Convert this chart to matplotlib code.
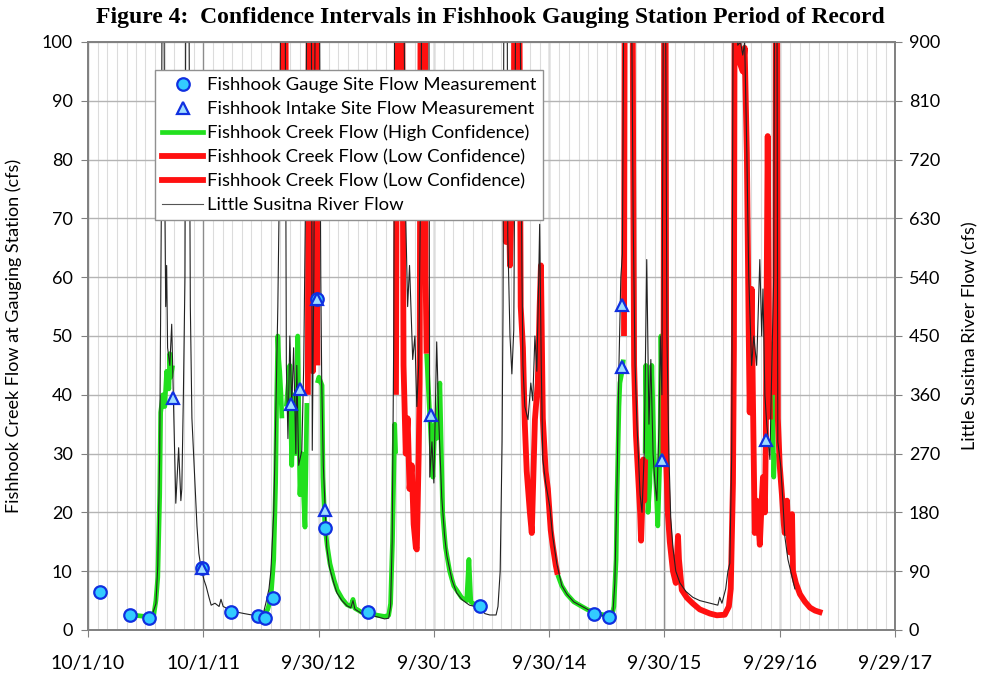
import numpy as np
import pandas as pd
import matplotlib
matplotlib.use('Agg')
import matplotlib.pyplot as plt
import matplotlib.dates as mdates
from matplotlib.lines import Line2D

plt.rcParams['font.family'] = ['Lato', 'DejaVu Sans']

nan = np.nan

# ---- spot measurements (cfs, Fishhook Creek) ----
gauge_dates = ['2010-11-08', '2011-02-11', '2011-04-12', '2011-09-27', '2011-12-28',
               '2012-03-22', '2012-04-13', '2012-05-09', '2012-09-25', '2012-10-20',
               '2013-03-05', '2014-02-23', '2015-02-19', '2015-04-08']
gauge_cfs = [6.5, 2.5, 2.0, 10.6, 3.1, 2.4, 2.0, 5.4, 56.3, 17.4, 3.1, 4.1, 2.7, 2.2]

intake_dates = ['2011-06-26', '2011-09-27', '2012-07-05', '2012-08-02', '2012-09-25',
                '2012-10-20', '2013-09-21', '2015-05-19', '2015-05-19', '2015-09-22',
                '2016-08-17']
intake_cfs = [39.5, 10.6, 38.4, 41.0, 56.3, 20.4, 36.6, 55.3, 44.7, 28.9, 32.3]

# ---- Fishhook Creek flow, high confidence (cfs) ----
green = [
    ('2011-02-11', 2.6), ('2011-03-15', 2.4), ('2011-04-15', 2.2), ('2011-04-27', 2.5),
    ('2011-05-04', 5), ('2011-05-10', 9), ('2011-05-16', 23), ('2011-05-19', 37),
    ('2011-05-26', 40), ('2011-06-01', 38), ('2011-06-07', 44), ('2011-06-14', 41),
    ('2011-06-17', 47), ('2011-06-20', 43), ('2011-06-26', 45), ('2011-06-27', nan),
    ('2012-03-22', 2.3), ('2012-04-07', 2.4), ('2012-04-22', 3.5), ('2012-05-02', 5.5),
    ('2012-05-11', 12), ('2012-05-17', 25), ('2012-05-20', 38), ('2012-05-24', 50),
    ('2012-05-27', 46), ('2012-05-30', 44), ('2012-06-03', 40), ('2012-06-06', 36),
    ('2012-06-07', nan),
    ('2012-06-20', 38), ('2012-07-01', 45), ('2012-07-07', 28), ('2012-07-13', 40),
    ('2012-07-20', 30), ('2012-07-26', 50), ('2012-08-02', 23), ('2012-08-08', 30),
    ('2012-08-18', 17.5), ('2012-08-24', 38.6), ('2012-08-25', nan),
    ('2012-09-26', 42), ('2012-10-01', 43), ('2012-10-11', 41.6), ('2012-10-14', 26),
    ('2012-10-20', 17.7), ('2012-10-27', 14.5), ('2012-11-05', 11.3), ('2012-11-18', 8.5),
    ('2012-11-28', 6.8), ('2012-12-14', 5.3), ('2012-12-29', 4.3), ('2013-01-10', 4.0),
    ('2013-01-17', 5.2), ('2013-01-23', 3.7), ('2013-02-14', 3.0), ('2013-03-11', 2.8),
    ('2013-04-05', 2.5), ('2013-04-27', 2.3), ('2013-05-10', 2.5), ('2013-05-16', 4.5),
    ('2013-05-22', 15), ('2013-05-29', 35), ('2013-06-01', 30), ('2013-06-02', nan),
    ('2013-09-07', 47), ('2013-09-17', 36.5), ('2013-09-27', 26), ('2013-10-03', 35),
    ('2013-10-09', 32.6), ('2013-10-19', 42), ('2013-10-28', 19.7), ('2013-11-06', 14),
    ('2013-11-19', 10), ('2013-12-02', 7.5), ('2013-12-11', 6.8), ('2013-12-27', 5.5),
    ('2014-01-12', 5.0), ('2014-01-19', 12), ('2014-01-25', 4.8), ('2014-02-07', 4.3),
    ('2014-02-23', 3.6), ('2014-02-24', nan),
    ('2014-10-27', 9.4), ('2014-11-09', 7.5), ('2014-11-25', 6.1), ('2014-12-17', 4.8),
    ('2015-01-05', 4.2), ('2015-01-28', 3.5), ('2015-02-17', 3.0), ('2015-03-10', 2.7),
    ('2015-03-29', 2.5), ('2015-04-10', 2.3), ('2015-04-17', 2.5), ('2015-04-23', 4),
    ('2015-04-30', 12), ('2015-05-03', 23), ('2015-05-09', 38), ('2015-05-12', 42),
    ('2015-05-19', 44), ('2015-05-23', 46), ('2015-05-24', nan),
    ('2015-07-31', 30), ('2015-08-02', 45), ('2015-08-09', 20), ('2015-08-15', 25),
    ('2015-08-21', 45), ('2015-08-28', 30), ('2015-09-03', 25), ('2015-09-09', 17.7),
    ('2015-09-16', 30), ('2015-09-19', 50), ('2015-09-22', 40), ('2015-09-25', 28),
    ('2015-09-26', nan),
    ('2016-08-29', 36), ('2016-09-04', 48.7), ('2016-09-10', 26), ('2016-09-13', 30),
]

# ---- Fishhook Creek flow, low confidence (cfs), two records ----
red_a = [
    ('2012-06-08', 75), ('2012-06-10', 130), ('2012-06-16', 130), ('2012-06-19', 75),
    ('2012-06-20', nan),
    ('2012-08-27', 40), ('2012-08-31', 130), ('2012-09-09', 130), ('2012-09-12', 44),
    ('2012-09-18', 130), ('2012-09-23', 130), ('2012-09-26', 45), ('2012-09-27', nan),
    ('2013-06-02', 40), ('2013-06-07', 130), ('2013-06-20', 130), ('2013-06-26', 45),
    ('2013-07-03', 30), ('2013-07-09', 36), ('2013-07-15', 24), ('2013-07-22', 28),
    ('2013-07-28', 18), ('2013-08-04', 14), ('2013-08-07', 13.7), ('2013-08-13', 30),
    ('2013-08-16', 42), ('2013-08-20', 130), ('2013-09-01', 130), ('2013-09-04', 60),
    ('2013-09-07', 47), ('2013-09-08', nan),
    ('2014-05-10', 88), ('2014-05-16', 66), ('2014-05-22', 85), ('2014-05-29', 62),
    ('2014-06-04', 75), ('2014-06-10', 80), ('2014-06-13', 130), ('2014-06-26', 130),
    ('2014-07-02', 55), ('2014-07-09', 48), ('2014-07-15', 35), ('2014-07-21', 27),
    ('2014-07-31', 20), ('2014-08-06', 16.5), ('2014-08-16', 35.8), ('2014-08-25', 42),
    ('2014-08-31', 55), ('2014-09-04', 62), ('2014-09-10', 36), ('2014-09-19', 27),
    ('2014-09-26', 24), ('2014-10-05', 17), ('2014-10-11', 14.5), ('2014-10-21', 11),
    ('2014-10-27', 9.4),
]
red_b = [
    ('2015-05-25', 50), ('2015-05-28', 130), ('2015-06-20', 130), ('2015-06-23', 80),
    ('2015-06-26', 45), ('2015-07-02', 33), ('2015-07-09', 26), ('2015-07-15', 20),
    ('2015-07-18', 15.2), ('2015-07-21', 20), ('2015-07-25', 29), ('2015-07-28', 22),
    ('2015-07-31', 29), ('2015-08-01', nan),
    ('2015-09-27', 30), ('2015-09-30', 130), ('2015-10-03', 130), ('2015-10-06', 28),
    ('2015-10-11', 19.7), ('2015-10-17', 15), ('2015-10-27', 10), ('2015-11-05', 8),
    ('2015-11-12', 16), ('2015-11-15', 12), ('2015-11-24', 6.8), ('2015-12-10', 5.5),
    ('2015-12-29', 4.5), ('2016-01-20', 3.5), ('2016-02-21', 2.8), ('2016-03-14', 2.5),
    ('2016-04-08', 2.6), ('2016-04-21', 4), ('2016-04-27', 7), ('2016-05-04', 25),
    ('2016-05-07', 48), ('2016-05-10', 130), ('2016-05-18', 130), ('2016-05-22', 97),
    ('2016-06-04', 95), ('2016-06-10', 99), ('2016-06-17', 81), ('2016-06-23', 50),
    ('2016-06-26', 37), ('2016-07-02', 58), ('2016-07-06', 40), ('2016-07-12', 16.5),
    ('2016-07-18', 22), ('2016-07-22', 19.7), ('2016-07-28', 14.5), ('2016-08-03', 22),
    ('2016-08-07', 26), ('2016-08-13', 20), ('2016-08-16', 32), ('2016-08-19', 60),
    ('2016-08-22', 84), ('2016-08-26', 50), ('2016-08-29', 35.8), ('2016-08-30', nan),
    ('2016-09-15', 40), ('2016-09-17', 130), ('2016-09-20', 130), ('2016-09-23', 36),
    ('2016-09-29', 28), ('2016-10-06', 23), ('2016-10-12', 18), ('2016-10-15', 16.5),
    ('2016-10-22', 22), ('2016-10-25', 18), ('2016-10-31', 13.2), ('2016-11-07', 19.7),
    ('2016-11-10', 10), ('2016-11-19', 8), ('2016-12-02', 6.1), ('2016-12-18', 4.8),
    ('2017-01-03', 3.8), ('2017-01-19', 3.3), ('2017-02-11', 2.9),
]

# ---- Little Susitna River flow (cfs, right axis) ----
susitna = [
    ('2011-04-15', 26), ('2011-04-24', 26), ('2011-05-04', 40), ('2011-05-10', 99),
    ('2011-05-16', 270), ('2011-05-21', 630), ('2011-05-24', 1035), ('2011-05-29', 1035),
    ('2011-06-01', 675), ('2011-06-04', 495), ('2011-06-07', 558), ('2011-06-10', 432),
    ('2011-06-17', 405), ('2011-06-23', 468), ('2011-06-30', 324), ('2011-07-06', 194),
    ('2011-07-12', 252), ('2011-07-15', 279), ('2011-07-22', 198), ('2011-07-25', 216),
    ('2011-07-30', 360), ('2011-08-04', 540), ('2011-08-07', 1035), ('2011-08-16', 1035),
    ('2011-08-21', 495), ('2011-08-26', 324), ('2011-09-01', 261), ('2011-09-11', 159),
    ('2011-09-17', 117), ('2011-09-24', 95), ('2011-10-03', 77), ('2011-10-10', 67),
    ('2011-10-19', 50), ('2011-10-26', 38), ('2011-11-07', 41), ('2011-11-20', 36),
    ('2011-11-26', 47), ('2011-12-03', 36), ('2011-12-19', 32), ('2012-01-09', 28),
    ('2012-02-09', 25), ('2012-03-03', 23), ('2012-03-22', 21), ('2012-04-07', 23),
    ('2012-04-17', 43), ('2012-04-26', 63), ('2012-05-02', 90), ('2012-05-11', 180),
    ('2012-05-17', 315), ('2012-05-24', 495), ('2012-05-30', 720), ('2012-06-03', 1035),
    ('2012-06-16', 1035), ('2012-06-20', 405), ('2012-06-25', 293), ('2012-07-01', 450),
    ('2012-07-07', 342), ('2012-07-13', 432), ('2012-07-20', 270), ('2012-07-23', 405),
    ('2012-07-29', 252), ('2012-08-08', 275), ('2012-08-14', 405), ('2012-08-21', 720),
    ('2012-08-24', 1035), ('2012-09-07', 1035), ('2012-09-10', 275), ('2012-09-15', 540),
    ('2012-09-20', 1035), ('2012-10-02', 1035), ('2012-10-07', 540), ('2012-10-10', 378),
    ('2012-10-15', 252), ('2012-10-19', 207), ('2012-10-26', 126), ('2012-11-04', 95),
    ('2012-11-17', 72), ('2012-11-27', 57), ('2012-12-13', 45), ('2012-12-29', 37),
    ('2013-01-10', 34), ('2013-01-17', 45), ('2013-01-23', 32), ('2013-02-14', 25),
    ('2013-03-11', 23), ('2013-04-05', 20), ('2013-04-27', 17), ('2013-05-10', 18),
    ('2013-05-16', 36), ('2013-05-21', 135), ('2013-05-26', 450), ('2013-05-29', 1035),
    ('2013-06-26', 1035), ('2013-07-03', 630), ('2013-07-09', 495), ('2013-07-15', 558),
    ('2013-07-25', 414), ('2013-08-01', 450), ('2013-08-07', 342), ('2013-08-13', 405),
    ('2013-08-20', 720), ('2013-08-23', 1035), ('2013-09-14', 1035), ('2013-09-17', 234),
    ('2013-09-24', 288), ('2013-09-30', 225), ('2013-10-09', 441), ('2013-10-16', 315),
    ('2013-10-25', 203), ('2013-11-03', 144), ('2013-11-10', 114), ('2013-11-26', 77),
    ('2013-12-11', 57), ('2013-12-27', 47), ('2014-01-12', 41), ('2014-01-21', 38),
    ('2014-02-07', 36), ('2014-02-23', 32), ('2014-03-11', 25), ('2014-03-26', 23),
    ('2014-04-15', 23), ('2014-04-21', 36), ('2014-04-28', 90), ('2014-05-04', 288),
    ('2014-05-07', 495), ('2014-05-10', 1035), ('2014-05-20', 1035), ('2014-05-22', 603),
    ('2014-05-29', 450), ('2014-06-04', 392), ('2014-06-10', 459), ('2014-06-17', 1035),
    ('2014-06-29', 1035), ('2014-07-06', 540), ('2014-07-09', 405), ('2014-07-15', 342),
    ('2014-07-25', 322), ('2014-08-03', 378), ('2014-08-09', 351), ('2014-08-16', 450),
    ('2014-08-22', 396), ('2014-08-28', 540), ('2014-08-31', 621), ('2014-09-05', 405),
    ('2014-09-10', 261), ('2014-09-19', 225), ('2014-10-02', 189), ('2014-10-11', 144),
    ('2014-10-24', 102), ('2014-11-09', 68), ('2014-11-25', 55), ('2014-12-17', 43),
    ('2015-01-05', 38), ('2015-01-28', 32), ('2015-02-17', 26), ('2015-03-10', 23),
    ('2015-04-10', 21), ('2015-04-20', 27), ('2015-04-26', 72), ('2015-05-03', 225),
    ('2015-05-09', 405), ('2015-05-15', 540), ('2015-05-20', 576), ('2015-05-25', 1035),
    ('2015-06-17', 1035), ('2015-06-23', 630), ('2015-06-29', 405), ('2015-07-05', 315),
    ('2015-07-15', 207), ('2015-07-21', 180), ('2015-07-28', 270), ('2015-08-02', 450),
    ('2015-08-05', 567), ('2015-08-12', 315), ('2015-08-18', 414), ('2015-08-25', 270),
    ('2015-08-31', 225), ('2015-09-06', 198), ('2015-09-13', 315), ('2015-09-17', 450),
    ('2015-09-22', 360), ('2015-09-27', 1035), ('2015-10-03', 1035), ('2015-10-08', 450),
    ('2015-10-14', 270), ('2015-10-20', 171), ('2015-10-27', 126), ('2015-11-05', 90),
    ('2015-11-18', 72), ('2015-12-07', 59), ('2015-12-29', 50), ('2016-01-20', 45),
    ('2016-02-21', 41), ('2016-03-17', 38), ('2016-03-23', 50), ('2016-03-30', 41),
    ('2016-04-11', 63), ('2016-04-18', 90), ('2016-04-24', 102), ('2016-04-30', 270),
    ('2016-05-05', 1035), ('2016-05-16', 1035), ('2016-05-19', 895), ('2016-05-28', 900),
    ('2016-06-04', 880), ('2016-06-10', 900), ('2016-06-17', 729), ('2016-06-23', 540),
    ('2016-07-02', 405), ('2016-07-09', 450), ('2016-07-18', 405), ('2016-07-28', 567),
    ('2016-08-03', 450), ('2016-08-07', 522), ('2016-08-13', 360), ('2016-08-19', 315),
    ('2016-08-29', 261), ('2016-09-04', 405), ('2016-09-10', 540), ('2016-09-13', 1035),
    ('2016-09-20', 1035), ('2016-09-23', 288), ('2016-10-02', 252), ('2016-10-09', 198),
    ('2016-10-15', 144), ('2016-10-25', 108), ('2016-11-07', 81), ('2016-11-16', 63),
]

tick_dates = ['2010-10-01', '2011-10-01', '2012-09-30', '2013-09-30',
              '2014-09-30', '2015-09-30', '2016-09-29', '2017-09-29']
tick_labels = ['10/1/10', '10/1/11', '9/30/12', '9/30/13',
               '9/30/14', '9/30/15', '9/29/16', '9/29/17']


def unpack(rows):
    d = pd.to_datetime([r[0] for r in rows])
    v = np.array([r[1] for r in rows], dtype=float)
    return d, v


fig = plt.figure(figsize=(9.81, 6.75), dpi=100)
ax = fig.add_axes([88/981, 45/675, 807/981, 588/675])
ax2 = ax.twinx()   # Little Susitna (right scale)
ax3 = ax.twinx()   # measurements on top, left scale
ax3.set_ylim(0, 100)
ax3.axis('off')

# grid
xt = pd.to_datetime(tick_dates)
ax.set_xlim(xt[0], xt[-1])
ax.set_xticks(xt)
ax.set_xticklabels(tick_labels)
ax.xaxis.set_minor_locator(mdates.MonthLocator())
ax.grid(which='minor', axis='x', color='#dcdcdc', lw=0.8)
ax.grid(which='major', axis='x', color='#8c8c8c', lw=1.0)
ax.grid(which='major', axis='y', color='#b4b4b4', lw=1.0)
ax.set_axisbelow(True)

# series
d, v = unpack(green)
ax.plot(d, v, color='#22e01e', lw=3.4, solid_capstyle='butt')
d, v = unpack(red_a)
ax.plot(d, v, color='#ff1010', lw=4.2, solid_capstyle='butt')
d, v = unpack(red_b)
ax.plot(d, v, color='#ff1010', lw=4.2, solid_capstyle='butt')
d, v = unpack(susitna)
ax2.plot(d, v, color='#222222', lw=0.8)

ax3.plot(pd.to_datetime(gauge_dates), gauge_cfs, 'o', ms=9, mfc='#33ccff',
         mec='#1030e0', mew=1.6)
ax3.plot(pd.to_datetime(intake_dates), intake_cfs, '^', ms=8, mfc='#9fdcff',
         mec='#1030e0', mew=1.6)

# axes
ax.set_ylim(0, 100)
ax.set_yticks(np.arange(0, 101, 10))
ax2.set_ylim(0, 900)
ax2.set_yticks(np.arange(0, 901, 90))
ax3.set_xlim(xt[0], xt[-1])

for a in (ax, ax2):
    for s in a.spines.values():
        s.set_color('#808080')
        s.set_linewidth(1.2)
ax.tick_params(axis='x', which='major', length=5, color='#808080', pad=13, labelsize=14)
ax.tick_params(axis='x', which='minor', length=0)
ax.tick_params(axis='y', length=5, color='#808080', pad=6, labelsize=13)
ax2.tick_params(axis='y', length=5, color='#808080', pad=5, labelsize=13)

ax.set_ylabel('Fishhook Creek Flow at Gauging Station (cfs)', fontsize=13)
ax.yaxis.set_label_coords(-0.082, 0.5)
ax2.set_ylabel('Little Susitna River Flow (cfs)', fontsize=13)
ax2.yaxis.set_label_coords(1.083, 0.5)

fig.text(0.5, 1 - 18/675,
         'Figure 4:  Confidence Intervals in Fishhook Gauging Station Period of Record',
         ha='center', va='center', family='Liberation Serif', weight='bold', fontsize=17)

handles = [
    Line2D([], [], ls='none', marker='o', ms=9, mfc='#33ccff', mec='#1030e0', mew=1.6),
    Line2D([], [], ls='none', marker='^', ms=8, mfc='#9fdcff', mec='#1030e0', mew=1.6),
    Line2D([], [], color='#22e01e', lw=3.4),
    Line2D([], [], color='#ff1010', lw=4.2),
    Line2D([], [], color='#ff1010', lw=4.2),
    Line2D([], [], color='#555555', lw=0.8),
]
labels = ['Fishhook Gauge Site Flow Measurement',
          'Fishhook Intake Site Flow Measurement',
          'Fishhook Creek Flow (High Confidence)',
          'Fishhook Creek Flow (Low Confidence)',
          'Fishhook Creek Flow (Low Confidence)',
          'Little Susitna River Flow']
leg = ax3.legend(handles, labels, loc='upper left',
                 bbox_to_anchor=(155/981, 1 - 70/675), bbox_transform=fig.transFigure,
                 fontsize=13.3, handlelength=2.2, handletextpad=0.2, labelspacing=0.42,
                 borderpad=0.4, borderaxespad=0, fancybox=False, framealpha=1)
leg.get_frame().set_edgecolor('#909090')
leg.get_frame().set_linewidth(1.0)

fig.savefig('out.png', dpi=100)
